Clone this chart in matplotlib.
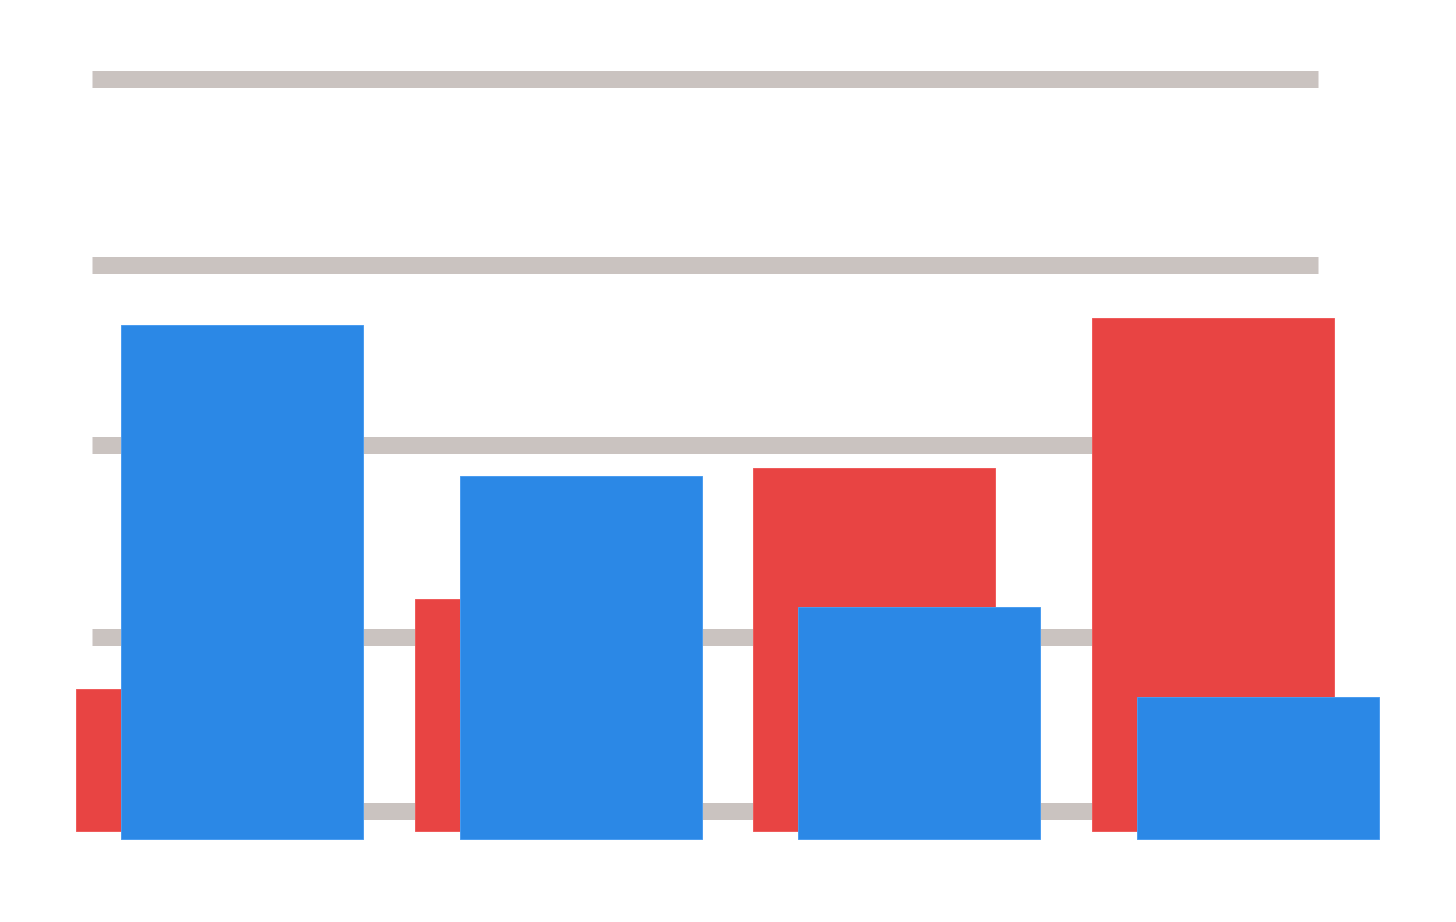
import matplotlib
matplotlib.use("Agg")
import matplotlib.pyplot as plt
from matplotlib.transforms import offset_copy
import numpy as np

categories = ["A", "B", "C", "D"]
red_values = [14.2, 23.2, 36.3, 51.3]
blue_values = [51.4, 36.3, 23.2, 14.2]
grid_values = [2.0, 19.4, 38.6, 56.6, 75.2]

RED = "#e84443"
BLUE = "#2b88e6"
GRID = "#cac3c0"

PITCH = 338.67
C0 = 197.0

fig = plt.figure(figsize=(14.56, 9.22), dpi=100)
ax = fig.add_axes([0, 0, 1, 1])
ax.set_axis_off()

x = np.arange(len(categories))
width = 242 / PITCH

ax.hlines(grid_values, (92 - C0) / PITCH, (1318 - C0) / PITCH, colors=GRID,
          linewidth=12.24, zorder=1)
ax.bar(x, red_values, width=width, color=RED, edgecolor="#ef5a5a", linewidth=0.7, zorder=2)
blue_tr = offset_copy(ax.transData, fig=fig, x=45, y=-8, units="dots")
ax.bar(x, blue_values, width=width, color=BLUE, edgecolor="#4a9cf0", linewidth=0.7,
       zorder=3, transform=blue_tr)

ax.set_xlim(-C0 / PITCH, (1456 - C0) / PITCH)
ax.set_ylim(-9.1, 83.1)

fig.savefig("out.png", dpi=100)
